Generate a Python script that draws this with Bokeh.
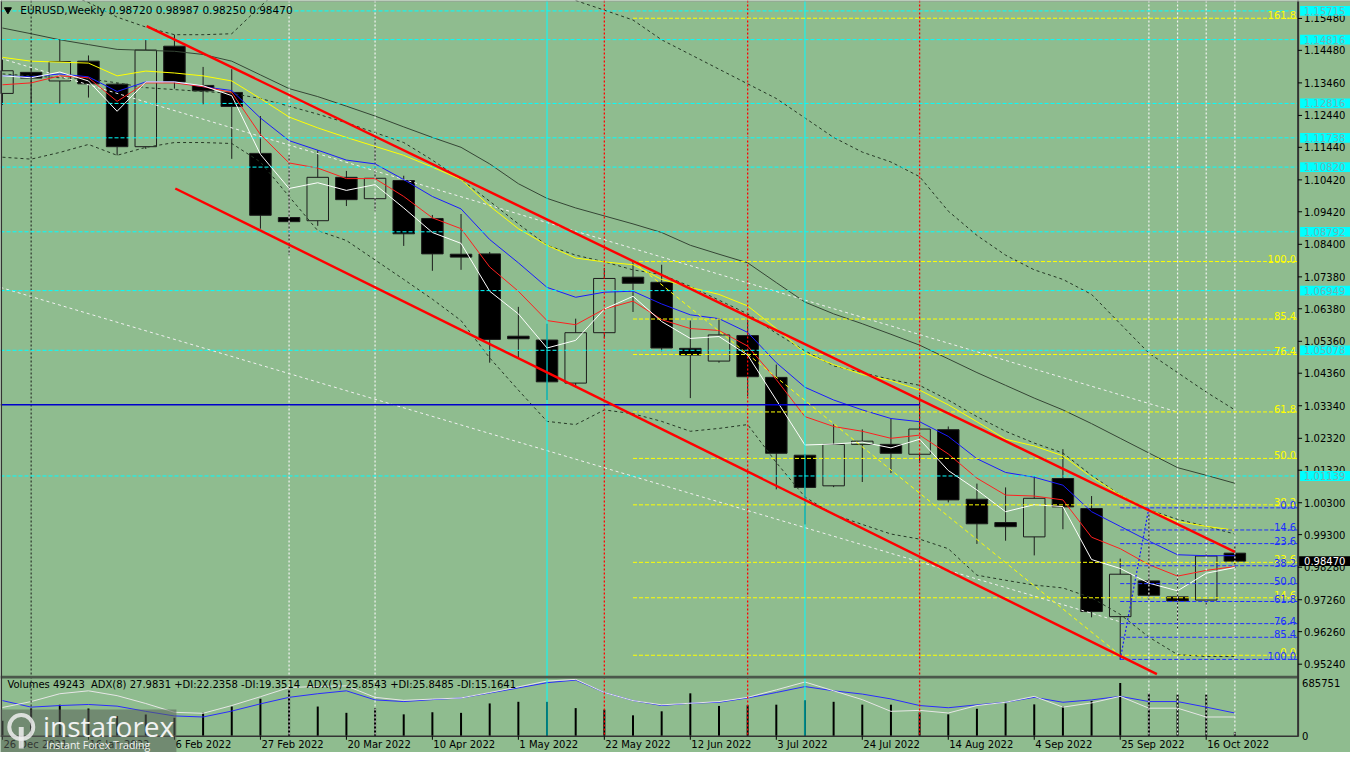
import pandas as pd
from bokeh.plotting import figure
from bokeh.models import Range1d
from bokeh.core.properties import value
from bokeh.embed import file_html
from bokeh.resources import INLINE

NaN = float("nan")

# ---------------- data ----------------
symbol = "EURUSD"
timeframe = "Weekly"
first_week = "2021-12-26"

opens = [1.1313, 1.1379, 1.1352, 1.1414, 1.1342, 1.1146, 1.1461, 1.1338, 1.1316, 1.1125,
         1.0924, 1.0914, 1.1050, 1.0983, 1.1040, 1.0921, 1.0809, 1.0810, 1.0552, 1.0540,
         1.0405, 1.0563, 1.0737, 1.0721, 1.0514, 1.0474, 1.0554, 1.0423, 1.0179, 1.0083,
         1.0213, 1.0213, 1.0182, 1.0259, 1.0041, 0.9968, 0.9923, 1.0106, 1.0012, 0.9673,
         0.9785, 0.9735, 0.9725, 0.98720]
highs = [1.1420, 1.1396, 1.1481, 1.1432, 1.1346, 1.1481, 1.1497, 1.1396, 1.1389, 1.1242,
         1.1119, 1.1135, 1.1070, 1.1175, 1.1055, 1.0932, 1.0935, 1.0816, 1.0644, 1.0591,
         1.0607, 1.0766, 1.0786, 1.0776, 1.0601, 1.0607, 1.0622, 1.0463, 1.0183, 1.0276,
         1.0260, 1.0294, 1.0368, 1.0269, 1.0090, 1.0078, 1.0113, 1.0198, 1.0051, 0.9855,
         1.0000, 0.9809, 0.9875, 0.98987]
lows = [1.1277, 1.1282, 1.1282, 1.1300, 1.1119, 1.1139, 1.1328, 1.1279, 1.1108, 1.0889,
        1.0806, 1.0898, 1.0960, 1.0944, 1.0835, 1.0757, 1.0760, 1.0469, 1.0484, 1.0352,
        1.0392, 1.0545, 1.0628, 1.0505, 1.0358, 1.0469, 1.0364, 1.0072, 0.9962, 1.0079,
        1.0095, 1.0123, 1.0154, 1.0031, 0.9901, 0.9911, 0.9865, 0.9947, 0.9671, 0.9538,
        0.9726, 0.9635, 0.9705, 0.98250]
closes = [1.1384, 1.1361, 1.1413, 1.1343, 1.1146, 1.1449, 1.1349, 1.1321, 1.1272, 1.0931,
          1.0911, 1.1050, 1.0980, 1.1047, 1.0873, 1.0810, 1.0800, 1.0542, 1.0544, 1.0409,
          1.0563, 1.0733, 1.0718, 1.0515, 1.0493, 1.0556, 1.0425, 1.0185, 1.0078, 1.0213,
          1.0223, 1.0185, 1.0261, 1.0039, 0.9964, 0.9955, 1.0044, 1.0017, 0.9689, 0.9806,
          0.9740, 0.9722, 0.9863, 0.98470]
volumes = [196400, 355200, 404100, 355600, 257300, 278400, 236100, 298200, 380500, 481300,
           604200, 380100, 298600, 359400, 278900, 306200, 298300, 420400, 441700, 441200,
           359800, 339300, 266100, 318400, 551600, 388200, 396500, 404300, 462400, 441500,
           404700, 404200, 302400, 278600, 351300, 420800, 408200, 380600, 453100, 685751,
           551400, 535300, 535700, 49243]

ma_white = [1.1368, 1.1362, 1.1380, 1.1352, 1.1257, 1.1349, 1.1349, 1.1337, 1.1306, 1.1122,
            1.1015, 1.1033, 1.1009, 1.1027, 1.0954, 1.0877, 1.0843, 1.0693, 1.0622, 1.0515,
            1.0539, 1.0637, 1.0677, 1.0598, 1.0545, 1.0551, 1.0493, 1.0352, 1.0211, 1.0214,
            1.0220, 1.0202, 1.0229, 1.0131, 1.0070, 1.0002, 1.0024, 1.0018, 0.9852, 0.9824,
            0.9778, 0.9754, 0.9809, 0.9827]
ma_red = [1.1340, 1.1346, 1.1368, 1.1362, 1.1288, 1.1346, 1.1346, 1.1334, 1.1316, 1.1184,
          1.1095, 1.1079, 1.1046, 1.1046, 1.0990, 1.0923, 1.0889, 1.0769, 1.0693, 1.0601,
          1.0588, 1.0637, 1.0662, 1.0604, 1.0576, 1.0570, 1.0521, 1.0416, 1.0300, 1.0269,
          1.0254, 1.0232, 1.0242, 1.0183, 1.0107, 1.0054, 1.0051, 1.0039, 0.9922, 0.9886,
          0.9836, 0.9800, 0.9818, 0.9830]
ma_blue = [1.1368, 1.1365, 1.1374, 1.1365, 1.1319, 1.1349, 1.1349, 1.1334, 1.1322, 1.1236,
           1.1165, 1.1135, 1.1104, 1.1092, 1.1043, 1.0990, 1.0951, 1.0855, 1.0782, 1.0705,
           1.0674, 1.0690, 1.0693, 1.0653, 1.0619, 1.0607, 1.0564, 1.0469, 1.0392, 1.0352,
           1.0321, 1.0294, 1.0284, 1.0238, 1.0168, 1.0125, 1.0110, 1.0085, 1.0002, 0.9956,
           0.9910, 0.9867, 0.9864, 0.9864]
ma_yellow = [1.1426, 1.1414, 1.1411, 1.1408, 1.1368, 1.1383, 1.1377, 1.1368, 1.1352, 1.1297,
             1.1239, 1.1205, 1.1175, 1.1147, 1.1119, 1.1082, 1.1043, 1.0960, 1.0889, 1.0837,
             1.0797, 1.0785, 1.0776, 1.0730, 1.0705, 1.0683, 1.0647, 1.0576, 1.0499, 1.0463,
             1.0432, 1.0413, 1.0383, 1.0337, 1.0284, 1.0229, 1.0208, 1.0177, 1.0110, 1.0054,
             1.0008, 0.9971, 0.9956, 0.9944]
ma_slow = [1.1518, 1.1500, 1.1481, 1.1466, 1.1451, 1.1448, 1.1445, 1.1435, 1.1414, 1.1371,
           1.1328, 1.1303, 1.1273, 1.1242, 1.1208, 1.1175, 1.1144, 1.1092, 1.1030, 1.0984,
           1.0954, 1.0929, 1.0904, 1.0877, 1.0837, 1.0809, 1.0782, 1.0720, 1.0659, 1.0622,
           1.0591, 1.0558, 1.0524, 1.0481, 1.0438, 1.0398, 1.0358, 1.0321, 1.0278, 1.0232,
           1.0186, 1.0140, 1.0116, 1.0091]
band_upper = [NaN, NaN, 1.1635, 1.1598, 1.1552, 1.1521, 1.1497, 1.1497, 1.1500, 1.1586,
              1.1666, NaN, NaN, NaN, NaN, NaN, NaN, NaN, NaN, NaN,
              1.1604, 1.1574, 1.1543, 1.1481, 1.1435, 1.1389, 1.1343, 1.1297, 1.1236, 1.1175,
              1.1129, 1.1098, 1.1052, 1.0944, 1.0868, 1.0806, 1.0760, 1.0730, 1.0683, 1.0591,
              1.0499, 1.0438, 1.0377, 1.0321]
band_middle = [1.1374, 1.1368, 1.1362, 1.1359, 1.1346, 1.1331, 1.1325, 1.1319, 1.1313, 1.1297,
               1.1273, 1.1248, 1.1221, 1.1190, 1.1159, 1.1104, 1.1043, 1.0975, 1.0904, 1.0837,
               1.0806, 1.0785, 1.0760, 1.0745, 1.0708, 1.0665, 1.0622, 1.0561, 1.0506, 1.0459,
               1.0438, 1.0416, 1.0398, 1.0352, 1.0300, 1.0254, 1.0217, 1.0186, 1.0116, 1.0054,
               1.0008, 0.9978, 0.9956, 0.9932]
band_lower = [1.1113, 1.1107, 1.1128, 1.1153, 1.1119, 1.1144, 1.1159, 1.1159, 1.1156, 1.1098,
              1.0990, 1.0883, 1.0852, 1.0791, 1.0730, 1.0668, 1.0601, 1.0484, 1.0383, 1.0285,
              1.0275, 1.0321, 1.0309, 1.0285, 1.0254, 1.0263, 1.0275, 1.0156, 1.0048, 0.9993,
              0.9962, 0.9932, 0.9916, 0.9886, 0.9803, 0.9787, 0.9772, 0.9763, 0.9732, 0.9680,
              0.9609, 0.9554, 0.9548, 0.9548]

adx8_line = [40.0, 32.6, 34.4, 35.6, 33.7, 27.8, 22.6, 21.4, 28.1, 36.3,
             43.7, 47.8, 51.1, 40.8, 38.9, 41.1, 43.0, 48.6, 54.4, 60.3,
             63.3, 49.2, 40.0, 34.4, 37.0, 38.1, 43.0, 49.2, 55.9, 51.1,
             47.4, 41.9, 34.4, 31.9, 35.2, 38.1, 43.7, 38.1, 40.8, 44.8,
             38.9, 38.9, 32.6, 25.9]
adx5_line = [32.2, 38.9, 47.8, 51.1, 45.6, 36.7, 26.7, 25.6, 34.4, 44.4,
             54.8, 56.1, 56.7, 43.7, 40.3, 41.7, 43.0, 49.2, 55.6, 62.2,
             64.1, 49.2, 40.0, 35.2, 37.0, 38.9, 43.7, 52.2, 61.1, 51.1,
             41.1, 27.8, 28.9, 25.9, 34.4, 38.1, 44.8, 32.6, 37.4, 44.8,
             31.4, 31.4, 21.4, 21.4]
volume_label = "Volumes 49243"
adx8_label = "ADX(8) 27.9831 +DI:22.2358 -DI:19.3514"
adx5_label = "ADX(5) 25.8543 +DI:25.8485 -DI:15.1641"

price_ticks = [1.15480, 1.14480, 1.13460, 1.12440, 1.11440, 1.10420, 1.09420, 1.08400,
               1.07380, 1.06380, 1.05360, 1.04360, 1.03340, 1.02320, 1.01320, 1.00300,
               0.99300, 0.98280, 0.97260, 0.96260, 0.95240]
volume_ticks = [685751, 0]
cyan_levels = [1.15715, 1.14816, 1.12816, 1.11738, 1.10820, 1.08792, 1.06949, 1.05078, 1.01139]
blue_level = 1.0337
blue_level_end_week = 32

fib_a_start_week, fib_a_low, fib_a_high = 22, 0.9552, 1.0786
fib_a_levels = [161.8, 100.0, 85.4, 76.4, 61.8, 50.0, 38.2, 23.6, 14.6, 0.0]
fib_b_start_week, fib_b_high, fib_b_low = 39, 1.0014, 0.9539
fib_b_levels = [0.0, 14.6, 23.6, 38.2, 50.0, 61.8, 76.4, 85.4, 100.0]

channel_upper_x, channel_upper_y = [5.03, 43.0], [1.1524, 0.9876]
channel_lower_x, channel_lower_y = [6.03, 40.28], [1.1015, 0.9493]
trend_e_x, trend_e_y = [-0.07, 40.97], [1.1423, 1.0315]
trend_f_x, trend_f_y = [-0.07, 39.07], [1.0705, 0.9655]
fan_x, fan_y = [22, 39], [1.0786, 0.9552]
zigzag_x, zigzag_y = [39, 40], [0.9539, 1.0014]

vlines_black = [1]
vlines_white = [10, 13, 40, 41, 42, 43]
vlines_red = [21, 26, 32]
vlines_cyan = [19, 28]

# ---------------- layout helpers (reference pixel geometry) ----------------
BG = "#8fbc8f"
BAR_PX, BAR0_PX = 29.0, 2.0
PRICE_TOP, PRICE_PER_PX = 1.16042, 0.0003069
AXIS_PX = 1313
SUB_BOTTOM_PX, VOL_TOP_PX = 751, 697
ADX_SCALE = 60.0


def X(px):
    return (px - BAR0_PX) / BAR_PX


def Y(py):
    return PRICE_TOP - PRICE_PER_PX * py


def dY(px):
    return PRICE_PER_PX * px


FONT = value("DejaVu Sans")

p = figure(width=1350, height=752, x_range=Range1d(X(0), X(1366)), y_range=Range1d(Y(768), Y(0)),
           x_axis_location=None, y_axis_location=None, toolbar_location=None,
           output_backend="svg", min_border=0, background_fill_color=BG,
           border_fill_color=BG, outline_line_color=None)
p.xgrid.visible = False
p.ygrid.visible = False

vol_per_px = volume_ticks[0] / (SUB_BOTTOM_PX - VOL_TOP_PX)
adx_per_px = ADX_SCALE / (SUB_BOTTOM_PX - VOL_TOP_PX)
p.extra_y_ranges = {
    "vol": Range1d(-(768 - SUB_BOTTOM_PX) * vol_per_px, SUB_BOTTOM_PX * vol_per_px),
    "adx": Range1d(-(768 - SUB_BOTTOM_PX) * adx_per_px, SUB_BOTTOM_PX * adx_per_px),
}

n = len(opens)
idx = list(range(n))
weeks = pd.date_range(first_week, periods=n, freq="7D")

# ---------------- candles ----------------
tops = [max(o, c) for o, c in zip(opens, closes)]
bots = [min(o, c) for o, c in zip(opens, closes)]
fills = [BG if c > o else "black" for o, c in zip(opens, closes)]
p.segment(x0=idx, y0=highs, x1=idx, y1=lows, line_color="#1c1c1c", line_width=1)
p.vbar(x=idx, width=0.75, top=tops, bottom=bots, fill_color=fills, line_color="#1c1c1c", line_width=1)

# ---------------- volume sub-window ----------------
p.segment(x0=idx, y0=[0] * n, x1=idx, y1=volumes, y_range_name="vol", line_color="black", line_width=2)
p.line(idx, adx8_line, y_range_name="adx", line_color="#2b2bff", line_width=1)
p.line(idx, adx5_line, y_range_name="adx", line_color="#e6e6e6", line_width=1)

# ---------------- indicators ----------------
p.line(idx, band_upper, line_color="#263826", line_width=1, line_dash="3 3")
p.line(idx, band_middle, line_color="#263826", line_width=1, line_dash="3 3")
p.line(idx, band_lower, line_color="#263826", line_width=1, line_dash="3 3")
p.line(idx, ma_slow, line_color="#354535", line_width=1)
p.line(trend_e_x, trend_e_y, line_color="#f0f0f0", line_width=1, line_dash="3 3")
p.line(trend_f_x, trend_f_y, line_color="#f0f0f0", line_width=1, line_dash="3 3")
p.line(idx, ma_yellow, line_color="#ffff00", line_width=1)
p.line(idx, ma_blue, line_color="#1a1aff", line_width=1)
p.line(idx, ma_red, line_color="#ff2020", line_width=1)
p.line(idx, ma_white, line_color="#ffffff", line_width=1)

# ---------------- objects ----------------
ytop, ybot = Y(0), Y(SUB_BOTTOM_PX)


def vlines(xs, color, dash, width=1.0):
    p.segment(x0=xs, y0=[ytop] * len(xs), x1=xs, y1=[ybot] * len(xs), line_color=color,
              line_width=width, line_dash=dash)


vlines(vlines_black, "#1a1a1a", "2 2")
vlines(vlines_white, "#f4f4f4", "2 2", 1.2)
vlines(vlines_red, "#ff0000", "2 2", 1.3)
vlines(vlines_cyan, "#00ffff", "solid")

k = len(cyan_levels)
p.segment(x0=[X(0)] * k, y0=cyan_levels, x1=[X(AXIS_PX)] * k, y1=cyan_levels,
          line_color="#00ffff", line_width=1, line_dash="4 2")
p.segment(x0=[X(0)], y0=[blue_level], x1=[blue_level_end_week], y1=[blue_level],
          line_color="#0000cc", line_width=1.6)

fa_prices = [fib_a_low + lv / 100.0 * (fib_a_high - fib_a_low) for lv in fib_a_levels]
fb_prices = [fib_b_high - lv / 100.0 * (fib_b_high - fib_b_low) for lv in fib_b_levels]
p.segment(x0=[fib_a_start_week] * len(fa_prices), y0=fa_prices, x1=[X(AXIS_PX)] * len(fa_prices),
          y1=fa_prices, line_color="#ffff00", line_width=1, line_dash="4 2")
p.segment(x0=[fib_b_start_week] * len(fb_prices), y0=fb_prices, x1=[X(AXIS_PX)] * len(fb_prices),
          y1=fb_prices, line_color="#2030ff", line_width=1, line_dash="4 2")
p.line(fan_x, fan_y, line_color="#ffff00", line_width=1, line_dash="4 3")
p.line(zigzag_x, zigzag_y, line_color="#1a1aff", line_width=1.2, line_dash="2 2")

p.line(channel_upper_x, channel_upper_y, line_color="#ff0000", line_width=2.4)
p.line(channel_lower_x, channel_lower_y, line_color="#ff0000", line_width=2.4)

p.text(x=[X(1311)] * len(fa_prices), y=fa_prices, text=[f"{lv:.1f}" for lv in fib_a_levels],
       text_font=FONT, text_font_size=value("10px"), text_color="#ffff00",
       text_align="right", text_baseline="bottom", y_offset=1)
p.text(x=[X(1311)] * len(fb_prices), y=fb_prices, text=[f"{lv:.1f}" for lv in fib_b_levels],
       text_font=FONT, text_font_size=value("10px"), text_color="#2030ff",
       text_align="right", text_baseline="bottom", y_offset=1)

# ---------------- frame, separators, axes ----------------
p.quad(left=[X(0)], right=[X(AXIS_PX)], bottom=[Y(692.5)], top=[Y(689.5)], fill_color="#4b584b", line_color=None)
p.segment(x0=[X(AXIS_PX)], y0=[Y(0)], x1=[X(AXIS_PX)], y1=[Y(752)], line_color="#333333", line_width=2)
p.segment(x0=[X(0)], y0=[Y(751.5)], x1=[X(AXIS_PX)], y1=[Y(751.5)], line_color="#333333", line_width=1.5)
p.segment(x0=[X(0.8)], y0=[Y(0)], x1=[X(0.8)], y1=[Y(752)], line_color="#333333", line_width=1.5)
p.segment(x0=[X(0)], y0=[Y(0.5)], x1=[X(1366)], y1=[Y(0.5)], line_color="#9a9a9a", line_width=1)

m = len(price_ticks)
p.segment(x0=[X(AXIS_PX)] * m, y0=price_ticks, x1=[X(AXIS_PX + 4)] * m, y1=price_ticks, line_color="black", line_width=1)
p.text(x=[X(1319)] * m, y=price_ticks, text=[f"{t:.5f}" for t in price_ticks], text_font=FONT,
       text_font_size=value("10px"), text_color="black", text_baseline="middle")

vt_y = [Y(SUB_BOTTOM_PX - v / vol_per_px) for v in volume_ticks]
p.text(x=[X(1317)] * 2, y=vt_y, text=[str(v) for v in volume_ticks], text_font=FONT,
       text_font_size=value("10px"), text_color="black", text_baseline="middle")

p.quad(left=[X(1315)] * k, right=[X(1366)] * k, bottom=[c - dY(5) for c in cyan_levels],
       top=[c + dY(5) for c in cyan_levels], fill_color="#00ffff", line_color=None)
p.text(x=[X(1319)] * k, y=cyan_levels, text=[f"{c:.5f}" for c in cyan_levels], text_font=FONT,
       text_font_size=value("10px"), text_color="#72b4b4", text_baseline="middle")

last = closes[-1]
p.quad(left=[X(1314)], right=[X(1366)], bottom=[last - dY(5)], top=[last + dY(5)], fill_color="black", line_color=None)
p.text(x=[X(1319)], y=[last], text=[f"{last:.5f}"], text_font=FONT, text_font_size=value("10px"),
       text_color="white", text_baseline="middle")

# date labels every 3 weeks
lab_i = idx[::3]
lab_t = [f"{weeks[i].day} {weeks[i].strftime('%b %Y')}" for i in lab_i]
p.segment(x0=lab_i, y0=[Y(751.5)] * len(lab_i), x1=lab_i, y1=[Y(755)] * len(lab_i), line_color="black", line_width=1)
p.text(x=[i + X(3) - X(2) for i in lab_i], y=[Y(759.5)] * len(lab_i), text=lab_t, text_font=FONT,
       text_font_size=value("10px"), text_color="black", text_baseline="middle")

# header and sub-window caption
p.scatter(x=[X(7.5)], y=[Y(9.5)], marker="inverted_triangle", size=7, color="black")
header = f"{symbol},{timeframe}  {opens[-1]:.5f} {highs[-1]:.5f} {lows[-1]:.5f} {closes[-1]:.5f}"
p.text(x=[X(20)], y=[Y(10)], text=[header], text_font=FONT, text_font_size=value("10.5px"),
       text_color="black", text_baseline="middle")
p.text(x=[X(7), X(91.5), X(310)], y=[Y(699)] * 3, text=[volume_label, adx8_label, adx5_label],
       text_font=FONT, text_font_size=value("10px"), text_color="black", text_baseline="middle")

# watermark logo
p.quad(left=[X(0)], right=[X(178)], bottom=[Y(768)], top=[Y(724)], fill_color="#5a605a", fill_alpha=0.55, line_color=None)
p.scatter(x=[X(21)], y=[Y(742)], marker="circle", size=24, fill_color=None, line_color="#eeeeee", line_width=4, line_alpha=0.85)
p.quad(left=[X(18.5)], right=[X(23.5)], bottom=[Y(764)], top=[Y(742)], fill_color="#eeeeee", fill_alpha=0.85, line_color=None)
p.text(x=[X(43)], y=[Y(741)], text=["instaforex"], text_font=value("Open Sans"), text_font_size=value("28px"),
       text_color="#f2f2f2", text_baseline="middle")
p.text(x=[X(46)], y=[Y(760)], text=["Instant Forex Trading"], text_font=value("Open Sans"),
       text_font_size=value("10.5px"), text_color="#f2f2f2", text_baseline="middle")

open("out.html", "w").write(file_html(p, INLINE))
